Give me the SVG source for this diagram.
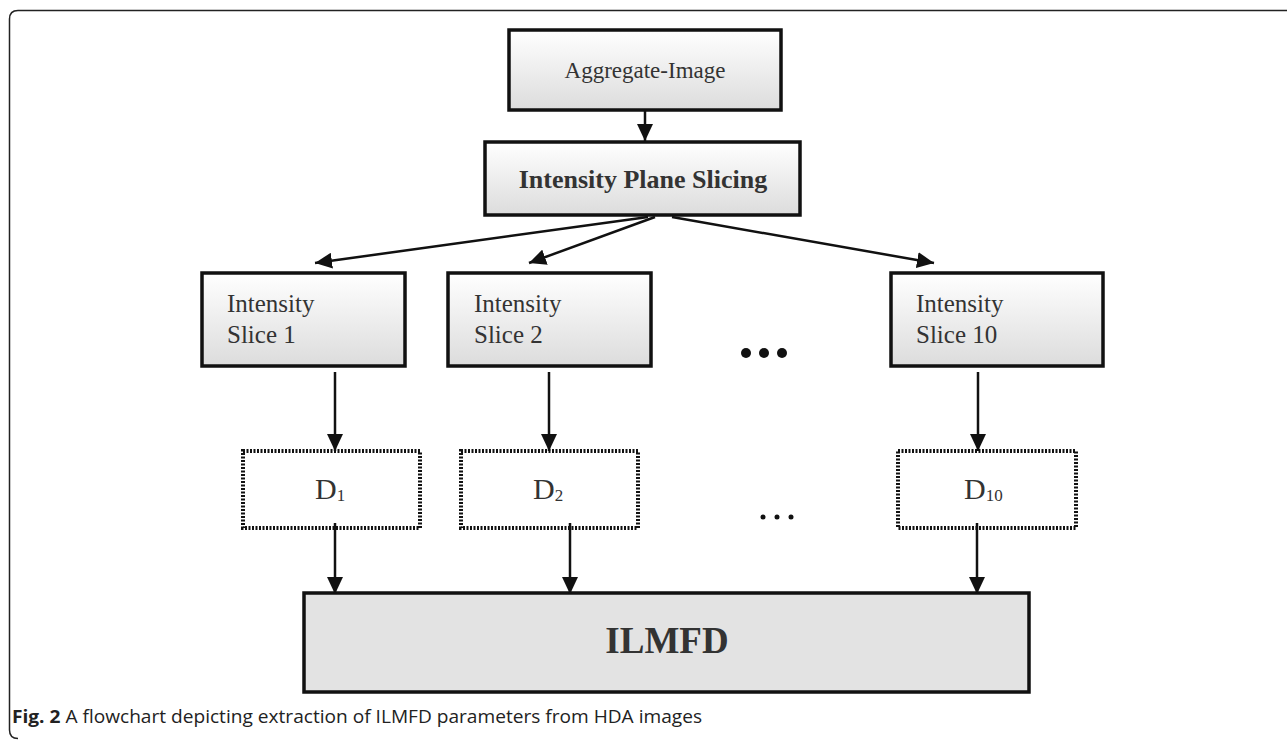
<svg xmlns="http://www.w3.org/2000/svg" width="1287" height="740" viewBox="0 0 1287 740">
<defs>
<linearGradient id="g" x1="0" y1="0" x2="0" y2="1">
<stop offset="0" stop-color="#ffffff"/>
<stop offset="1" stop-color="#dcdcdc"/>
</linearGradient>
<marker id="ahs" markerWidth="17" markerHeight="16" refX="17" refY="8" orient="auto" markerUnits="userSpaceOnUse">
<path d="M0,0 L17,8 L0,16 Z" fill="#111"/>
</marker>
</defs>
<style>
.box{fill:url(#g);stroke:#111;stroke-width:3.5}
.dbox{fill:#fff;stroke:#111;stroke-width:4;stroke-dasharray:2 1.5}
.ser{font-family:"Liberation Serif","Times New Roman",serif;fill:#333}
.c{stroke:#111;stroke-width:2.5;fill:none;marker-end:url(#ahs)}
.cap{font-family:"Open Sans","Liberation Sans",sans-serif;font-size:18px;fill:#222}
</style>
<rect width="1287" height="740" fill="#fff"/>
<path d="M1287,10.5 H18 Q9.5,10.5 9.5,19 V730 Q9.5,738.5 18,738.5" fill="none" stroke="#222" stroke-width="1.5"/>

<g id="aggregate">
<rect class="box" x="509" y="30" width="272" height="80"/>
<text class="ser" x="645" y="78" font-size="23" text-anchor="middle">Aggregate-Image</text>
</g>
<g id="ips">
<rect class="box" x="485" y="142" width="315" height="73"/>
<text class="ser" x="643" y="188" font-size="26" font-weight="bold" text-anchor="middle" fill="#111">Intensity Plane Slicing</text>
</g>
<g id="slice1">
<rect class="box" x="202" y="273" width="203" height="93"/>
<text class="ser" x="227" y="312" font-size="25">Intensity</text>
<text class="ser" x="227" y="343" font-size="25">Slice 1</text>
</g>
<g id="slice2">
<rect class="box" x="448" y="273" width="203" height="93"/>
<text class="ser" x="474" y="312" font-size="25">Intensity</text>
<text class="ser" x="474" y="343" font-size="25">Slice 2</text>
</g>
<g id="slice10">
<rect class="box" x="891" y="273" width="212" height="93"/>
<text class="ser" x="916" y="312" font-size="25">Intensity</text>
<text class="ser" x="916" y="343" font-size="25">Slice 10</text>
</g>
<g id="dots1" fill="#111">
<circle cx="746" cy="353" r="5"/>
<circle cx="764" cy="353" r="5"/>
<circle cx="782" cy="353" r="5"/>
</g>
<g id="d1">
<rect class="dbox" x="243" y="451" width="177" height="77"/>
<text class="ser" x="315" y="499" font-size="30">D<tspan font-size="17" dy="2">1</tspan></text>
</g>
<g id="d2">
<rect class="dbox" x="461" y="451" width="177" height="77"/>
<text class="ser" x="533" y="499" font-size="30">D<tspan font-size="17" dy="2">2</tspan></text>
</g>
<g id="d10">
<rect class="dbox" x="898" y="451" width="178" height="77"/>
<text class="ser" x="964" y="499" font-size="30">D<tspan font-size="17" dy="2">10</tspan></text>
</g>
<g id="dots2" fill="#111">
<circle cx="763" cy="517" r="2.5"/>
<circle cx="777" cy="517" r="2.5"/>
<circle cx="791" cy="517" r="2.5"/>
</g>
<g id="ilmfd">
<rect x="304" y="593" width="725" height="99" fill="#e3e3e3" stroke="#111" stroke-width="3.5"/>
<text class="ser" x="667" y="653" font-size="37" font-weight="bold" text-anchor="middle" fill="#111">ILMFD</text>
</g>

<g id="connectors">
<line class="c" x1="645" y1="111" x2="645" y2="141"/>
<line class="c" x1="648" y1="217" x2="315" y2="263"/>
<line class="c" x1="655" y1="217" x2="529" y2="263"/>
<line class="c" x1="672" y1="217" x2="934" y2="263"/>
<line class="c" x1="335" y1="372" x2="335" y2="451"/>
<line class="c" x1="549" y1="372" x2="549" y2="451"/>
<line class="c" x1="978" y1="372" x2="978" y2="451"/>
<line class="c" x1="335" y1="523" x2="335" y2="594"/>
<line class="c" x1="570" y1="523" x2="570" y2="594"/>
<line class="c" x1="977" y1="523" x2="977" y2="594"/>
</g>

<text class="cap" x="12" y="723" textLength="690" lengthAdjust="spacingAndGlyphs"><tspan font-weight="bold">Fig. 2</tspan> A flowchart depicting extraction of ILMFD parameters from HDA images</text>
</svg>
